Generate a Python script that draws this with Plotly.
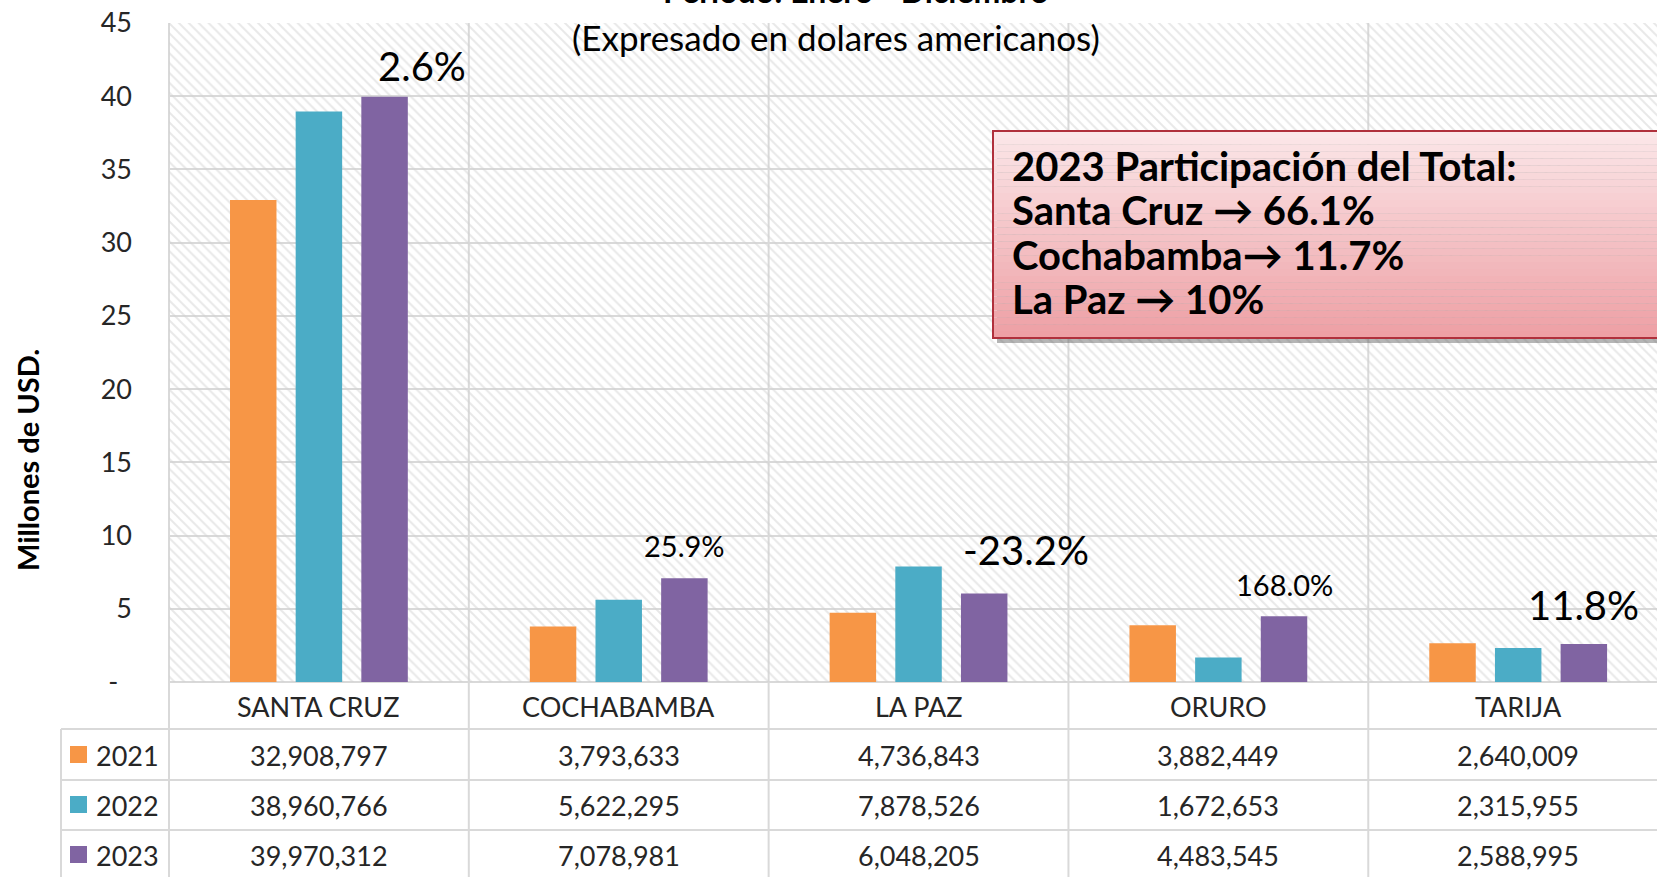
import plotly.graph_objs as go

# Datos (USD)
departamentos = ["SANTA CRUZ", "COCHABAMBA", "LA PAZ", "ORURO", "TARIJA"]
anios = ["2021", "2022", "2023"]
v2021 = [32908797, 3793633, 4736843, 3882449, 2640009]
v2022 = [38960766, 5622295, 7878526, 1672653, 2315955]
v2023 = [39970312, 7078981, 6048205, 4483545, 2588995]
variacion = ["2.6%", "25.9%", "-23.2%", "168.0%", "11.8%"]
cuadro = ["2023 Participación del Total:", "Santa Cruz → 66.1%", "Cochabamba→ 11.7%", "La Paz → 10%"]
colores = ["#F79646", "#4BACC6", "#8064A2"]

W, H = 1657, 877
L, T, B = 169, 23, 682          # bordes del area de grafico en px
XR = [-0.5, 4.463]
GRID = "#d9d9d9"
TXT = "#262626"


def px(X):
    return (X - L) / (W - L)


def py(Y):
    return (B - Y) / (B - T)


def xp(v):
    return (v - XR[0]) / (XR[1] - XR[0])


fig = go.Figure()

# fondo rayado
fig.add_trace(go.Bar(x=[2], y=[45], width=[5], marker=dict(
    color="rgba(0,0,0,0)", line=dict(width=0),
    pattern=dict(shape="\\", fgcolor="#d2d2d2", bgcolor="rgba(0,0,0,0)", size=7, solidity=0.28)),
    hoverinfo="skip", showlegend=False))

# barras
ancho = 0.155
paso = 0.219
xs = list(range(len(departamentos)))
for k, (anio, vals) in enumerate(zip(anios, [v2021, v2022, v2023])):
    fig.add_trace(go.Bar(
        x=xs, y=[v / 1e6 for v in vals], name=anio,
        width=ancho, offset=(k - 1) * paso - ancho / 2,
        marker=dict(color=colores[k], line=dict(width=0)),
        showlegend=False))

shapes = []
# lineas verticales (grilla + tabla)
for i in range(len(departamentos)):
    shapes.append(dict(type="line", xref="paper", yref="paper", x0=xp(i - 0.5), x1=xp(i - 0.5),
                       y0=1, y1=py(H + 5), line=dict(color=GRID, width=2), layer="below"))
shapes.append(dict(type="line", xref="paper", yref="paper", x0=px(61), x1=px(61),
                   y0=py(729), y1=py(H + 5), line=dict(color=GRID, width=2), layer="below"))
# lineas horizontales de la tabla
shapes.append(dict(type="line", xref="paper", yref="paper", x0=0, x1=1.02,
                   y0=0, y1=0, line=dict(color=GRID, width=2), layer="below"))
for Y in [729, 780, 830]:
    shapes.append(dict(type="line", xref="paper", yref="paper", x0=px(61), x1=1.02,
                       y0=py(Y), y1=py(Y), line=dict(color=GRID, width=2), layer="below"))

# cuadro de participacion con degradado
bx0, bx1, by0, by1 = px(993), px(1670), py(131), py(338)
shapes.append(dict(type="rect", xref="paper", yref="paper", x0=px(997), x1=px(1675), y0=py(135), y1=py(343),
                   fillcolor="rgba(90,90,90,0.45)", line=dict(width=0), layer="above"))
n = 30
c0, c1 = (251, 230, 232), (238, 160, 165)
for s in range(n):
    t = s / (n - 1)
    col = "rgb(%d,%d,%d)" % tuple(round(a + (b - a) * t) for a, b in zip(c0, c1))
    ya = by0 + (by1 - by0) * s / n
    yb = by0 + (by1 - by0) * (s + 1) / n
    shapes.append(dict(type="rect", xref="paper", yref="paper", x0=bx0, x1=bx1, y0=ya, y1=yb,
                       fillcolor=col, line=dict(width=0), layer="above"))
shapes.append(dict(type="rect", xref="paper", yref="paper", x0=bx0, x1=bx1, y0=by0, y1=by1,
                   fillcolor="rgba(0,0,0,0)", line=dict(color="#b0303c", width=2), layer="above"))

# cuadritos de leyenda en la tabla
for k, Y in enumerate([754, 804, 854]):
    shapes.append(dict(type="rect", xref="paper", yref="paper", x0=px(70), x1=px(87),
                       y0=py(Y - 8), y1=py(Y + 9), fillcolor=colores[k], line=dict(width=0)))

ann = []
# titulo
ann.append(dict(text="<b>Periodo: Enero - Diciembre</b>", xref="paper", yref="paper", x=px(855), y=py(12),
                xanchor="center", yanchor="bottom", showarrow=False,
                font=dict(family="Lato", size=32, color="#000000")))
ann.append(dict(text="(Expresado en dolares americanos)", xref="paper", yref="paper", x=px(836), y=py(37),
                xanchor="center", yanchor="middle", showarrow=False,
                font=dict(family="Lato", size=35, color="#000000")))
# titulo eje y
ann.append(dict(text="<b>Millones de USD.</b>", xref="paper", yref="paper", x=px(28), y=py(460),
                textangle=-90, showarrow=False, xanchor="center", yanchor="middle",
                font=dict(family="Lato", size=29, color="#000000")))

# etiquetas de variacion
grande = [True, False, True, False, True]
dx = [37, 0, 42, 0, 0]
dy = [31, 33, 43, 32, 39]
for i, lab in enumerate(variacion):
    ann.append(dict(text=lab, x=i + paso, y=v2023[i] / 1e6, xref="x", yref="y",
                    xshift=dx[i], yshift=dy[i], showarrow=False, xanchor="center", yanchor="middle",
                    font=dict(family="Lato", size=40 if grande[i] else 29, color="#000000")))

# tabla de datos
for i, d in enumerate(departamentos):
    ann.append(dict(text=d, x=i, y=py(706), xref="x", yref="paper", showarrow=False,
                    xanchor="center", yanchor="middle", font=dict(family="Lato", size=27, color=TXT)))
for k, (Y, vals) in enumerate(zip([755, 805, 855], [v2021, v2022, v2023])):
    ann.append(dict(text=anios[k], x=px(94), y=py(Y), xref="paper", yref="paper", showarrow=False,
                    xanchor="left", yanchor="middle", font=dict(family="Lato", size=27, color=TXT)))
    for i, v in enumerate(vals):
        ann.append(dict(text=f"{v:,}", x=i, y=py(Y), xref="x", yref="paper", showarrow=False,
                        xanchor="center", yanchor="middle", font=dict(family="Lato", size=27, color=TXT)))

# cuadro de texto, una linea por anotacion
for j, linea in enumerate(cuadro):
    ann.append(dict(text="<b>" + linea + "</b>", xref="paper", yref="paper", x=px(1011), y=py(166 + 44.4 * j),
                    xanchor="left", yanchor="middle", align="left", showarrow=False, borderpad=0,
                    font=dict(family="Lato", size=40, color="#000000")))

fig.update_layout(
    width=W, height=H,
    margin=dict(l=L, r=0, t=T, b=H - B, pad=0),
    paper_bgcolor="white", plot_bgcolor="white",
    barmode="overlay",
    xaxis=dict(range=XR, showticklabels=False, showgrid=False, zeroline=False, showline=False),
    yaxis=dict(range=[0, 45], tickvals=list(range(0, 46, 5)),
               ticktext=["-\u00a0\u00a0"] + [str(v) for v in range(5, 46, 5)],
               showgrid=True, gridcolor=GRID, gridwidth=2, zeroline=False, showline=False,
               ticklabelstandoff=36, tickfont=dict(family="Lato", size=27, color=TXT)),
    shapes=shapes, annotations=ann,
    showlegend=False,
)

fig.write_html("out.html", config={"displayModeBar": False},
               post_script="document.body.style.margin='0';")
